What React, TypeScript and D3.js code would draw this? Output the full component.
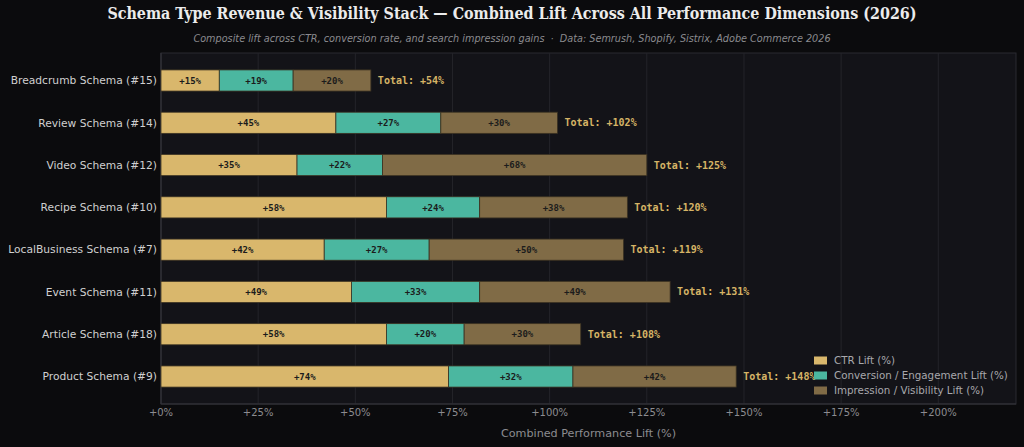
import * as d3 from "d3";

const categories = [
  "Breadcrumb Schema (#15)",
  "Review Schema (#14)",
  "Video Schema (#12)",
  "Recipe Schema (#10)",
  "LocalBusiness Schema (#7)",
  "Event Schema (#11)",
  "Article Schema (#18)",
  "Product Schema (#9)",
];
const ctrLift = [15, 45, 35, 58, 42, 49, 58, 74];
const convLift = [19, 27, 22, 24, 27, 33, 20, 32];
const imprLift = [20, 30, 68, 38, 50, 49, 30, 42];
const seriesNames = [
  "CTR Lift (%)",
  "Conversion / Engagement Lift (%)",
  "Impression / Visibility Lift (%)",
];
const seriesColors = ["#d9b76c", "#4bb7a0", "#806b46"];
const xTicks = [0, 25, 50, 75, 100, 125, 150, 175, 200];

const W = 1024;
const H = 447;
const m = { left: 161, right: 1016, top: 53, bottom: 404 };

export default function App() {
  const x = d3.scaleLinear().domain([0, 220]).range([m.left, m.right]);
  const y = d3
    .scaleLinear()
    .domain([-0.65, categories.length - 0.35])
    .range([m.top, m.bottom]);
  const barH = y(0.25) - y(-0.25);

  const series = [ctrLift, convLift, imprLift];
  const rows = categories.map((c, i) => {
    let acc = 0;
    const segs = series.map((s, k) => {
      const seg = { k, x0: acc, x1: acc + s[i], v: s[i] };
      acc += s[i];
      return seg;
    });
    return { c, i, segs, total: acc };
  });

  return (
    <svg
      width={W}
      height={H}
      style={{ position: "absolute", left: 0, top: 0, background: "#0b0b0d" }}
    >
      <rect x={0} y={0} width={W} height={H} fill="#0b0b0d" />
      <text
        x={512}
        y={19}
        textAnchor="middle"
        fill="#ececec"
        fontFamily="DejaVu Serif"
        fontWeight="bold"
        fontSize={15.9}
        style={{ fontStretch: "condensed" }}
      >
        Schema Type Revenue &amp; Visibility Stack — Combined Lift Across All Performance Dimensions (2026)
      </text>
      <text
        x={512}
        y={42}
        textAnchor="middle"
        fill="#8a8a8e"
        fontFamily="DejaVu Sans"
        fontStyle="italic"
        fontSize={9.7}
        style={{ whiteSpace: "pre" }}
      >
        {"Composite lift across CTR, conversion rate, and search impression gains  ·  Data: Semrush, Shopify, Sistrix, Adobe Commerce 2026"}
      </text>

      <rect
        x={m.left}
        y={m.top}
        width={m.right - m.left}
        height={m.bottom - m.top}
        fill="#131318"
        stroke="#2a2a30"
        strokeWidth={1}
      />
      {xTicks.map((t) => (
        <g key={t}>
          <line
            x1={x(t)}
            x2={x(t)}
            y1={m.top}
            y2={m.bottom}
            stroke="#24242a"
            strokeWidth={1}
          />
          <text
            x={x(t)}
            y={m.bottom + 12}
            textAnchor="middle"
            fill="#8c8c90"
            fontFamily="DejaVu Sans"
            fontSize={10}
          >
            {`+${t}%`}
          </text>
        </g>
      ))}
      <line x1={m.left} x2={m.left} y1={m.top} y2={m.bottom} stroke="#34343a" />
      <line x1={m.left} x2={m.right} y1={m.bottom} y2={m.bottom} stroke="#34343a" />

      {rows.map((r) => (
        <g key={r.c}>
          <text
            x={m.left - 4}
            y={y(r.i)}
            dy="0.35em"
            textAnchor="end"
            fill="#d0d0d0"
            fontFamily="DejaVu Sans"
            fontSize={10.7}
          >
            {r.c}
          </text>
          {r.segs.map((s) => (
            <g key={s.k}>
              <rect
                x={x(s.x0)}
                y={y(r.i) - barH / 2}
                width={x(s.x1) - x(s.x0)}
                height={barH}
                fill={seriesColors[s.k]}
                stroke="#3b3222"
                strokeWidth={0.8}
              />
              <text
                x={(x(s.x0) + x(s.x1)) / 2}
                y={y(r.i)}
                dy="0.35em"
                textAnchor="middle"
                fill="#1c1c1c"
                fontFamily="DejaVu Sans Mono"
                fontWeight="bold"
                fontSize={9}
              >
                {`+${s.v}%`}
              </text>
            </g>
          ))}
          <text
            x={x(r.total) + 7}
            y={y(r.i)}
            dy="0.35em"
            fill="#d6b466"
            fontFamily="DejaVu Sans Mono"
            fontWeight="bold"
            fontSize={10}
          >
            {`Total: +${r.total}%`}
          </text>
        </g>
      ))}

      <text
        x={(m.left + m.right) / 2}
        y={437}
        textAnchor="middle"
        fill="#8c8c90"
        fontFamily="DejaVu Sans"
        fontSize={11.2}
      >
        Combined Performance Lift (%)
      </text>

      <g transform="translate(814,356)">
        {seriesNames.map((n, k) => (
          <g key={n} transform={`translate(0,${k * 15})`}>
            <rect x={0} y={0.5} width={13} height={8} fill={seriesColors[k]} />
            <text
              x={20}
              y={4.5}
              dy="0.35em"
              fill="#a8a8ac"
              fontFamily="DejaVu Sans"
              fontSize={10.3}
            >
              {n}
            </text>
          </g>
        ))}
      </g>
    </svg>
  );
}
